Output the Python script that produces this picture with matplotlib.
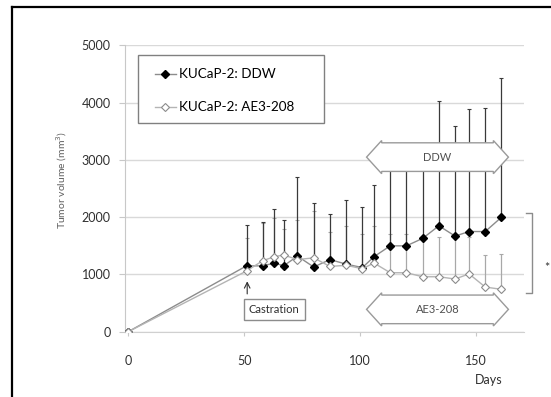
import matplotlib.pyplot as plt
import numpy as np
from matplotlib.patches import Polygon, Rectangle
from matplotlib.lines import Line2D

plt.rcParams['font.family'] = ['Lato', 'DejaVu Sans']

# days after inoculation
days = [0, 51, 58, 63, 67, 73, 80, 87, 94, 101, 106, 113, 120, 127, 134, 141, 147, 154, 161]

# KUCaP-2: DDW, mean and top of error bar
ddw_mean = [0, 1150, 1150, 1200, 1150, 1320, 1130, 1260, 1180, 1120, 1310, 1500, 1500, 1630, 1850, 1670, 1750, 1750, 2000]
ddw_upper = [0, 1870, 1910, 2150, 1960, 2700, 2240, 2060, 2300, 2180, 2570, 3100, 3100, 3100, 4030, 3600, 3890, 3900, 4440]

# KUCaP-2: AE3-208
ae3_mean = [0, 1060, 1240, 1310, 1340, 1260, 1290, 1140, 1160, 1100, 1200, 1030, 1030, 960, 960, 920, 1010, 780, 740]
ae3_upper = [0, 1630, 1900, 1980, 1800, 1950, 2100, 1750, 1840, 1700, 1840, 1700, 1710, 1600, 1650, 1680, 1650, 1340, 1350]

yticks = [0, 1000, 2000, 3000, 4000, 5000]
xticks = [0, 50, 100, 150]


def block_arrow(ax, x1, x2, yc, label, bh=250, hh=290, hw=6.5):
    pts = [(x1, yc), (x1 + hw, yc + hh), (x1 + hw, yc + bh), (x2 - hw, yc + bh),
           (x2 - hw, yc + hh), (x2, yc), (x2 - hw, yc - hh), (x2 - hw, yc - bh),
           (x1 + hw, yc - bh), (x1 + hw, yc - hh)]
    poly = Polygon(pts, closed=True, facecolor='white', edgecolor='#9a9a9a',
                   lw=1.0, zorder=6)
    ax.add_patch(poly)
    ax.text((x1 + x2) / 2, yc, label, ha='center', va='center', fontsize=8,
            color='#505050', zorder=7)


def main():
    fig = plt.figure(figsize=(5.51, 3.97), dpi=100)
    ax = fig.add_axes([0.2263, 0.1645, 0.7238, 0.7209])

    x = np.asarray(days)
    d_m = np.asarray(ddw_mean)
    d_err = np.asarray(ddw_upper) - d_m
    a_m = np.asarray(ae3_mean)
    a_err = np.asarray(ae3_upper) - a_m

    ax.errorbar(x, a_m, yerr=[np.zeros_like(a_err), a_err], fmt='none',
                ecolor='#a8a8a8', elinewidth=0.9, capsize=1.5, capthick=0.8, zorder=2)
    ax.errorbar(x, d_m, yerr=[np.zeros_like(d_err), d_err], fmt='none',
                ecolor='#3a3a3a', elinewidth=0.9, capsize=1.5, capthick=0.8, zorder=3)

    ax.plot(x, d_m, color='#8c8c8c', lw=1.0, marker='D', ms=4.3,
            mfc='black', mec='black', zorder=4, label='KUCaP-2: DDW')
    ax.plot(x, a_m, color='#b4b4b4', lw=1.0, marker='D', ms=4.3,
            mfc='white', mec='#8c8c8c', mew=0.8, zorder=5, label='KUCaP-2: AE3-208')

    ax.set_xlim(-1.55, 170.5)
    ax.set_ylim(0, 5000)
    ax.set_yticks(yticks)
    ax.set_xticks(xticks)
    ax.grid(axis='y', color='#d9d9d9', lw=1.0, zorder=0)
    ax.set_axisbelow(True)
    for s in ['top', 'right']:
        ax.spines[s].set_visible(False)
    ax.spines['left'].set_color('#c8c8c8')
    ax.spines['bottom'].set_color('#d0d0d0')
    ax.tick_params(axis='x', length=3, color='#c8c8c8', pad=14, labelsize=9,
                   labelcolor='#303030')
    ax.tick_params(axis='y', length=4, color='#c8c8c8', pad=6, labelsize=9,
                   labelcolor='#303030')

    # legend box drawn by hand, entries without frame
    ax.add_patch(Rectangle((0.0334, 0.7292), 0.4664, 0.2376, transform=ax.transAxes,
                           fc='white', ec='#808080', lw=1.0, zorder=8))
    leg = ax.legend(loc='upper left', bbox_to_anchor=(0.075, 0.92), borderaxespad=0,
                    fontsize=9.7, labelspacing=1.55, handlelength=1.6, handletextpad=0.2,
                    borderpad=0, frameon=False)
    leg.set_zorder(9)

    # treatment arrows
    block_arrow(ax, 102.8, 164.0, 3050, 'DDW')
    block_arrow(ax, 102.8, 164.0, 390, 'AE3-208')

    # castration marker
    ax.annotate('', xy=(51.3, 880), xytext=(51.3, 660),
                arrowprops=dict(arrowstyle='->', color='#303030', lw=0.8,
                                shrinkA=0, shrinkB=0), zorder=6)
    ax.text(63.0, 385, 'Castration', ha='center', va='center', fontsize=8,
            color='#303030', zorder=7,
            bbox=dict(boxstyle='square,pad=0.45', fc='white', ec='#8c8c8c', lw=1.0))

    # significance bracket
    ax.plot([171.4, 174.3, 174.3, 171.4], [2070, 2070, 670, 670], color='#8c8c8c',
            lw=1.0, clip_on=False)
    ax.text(180.5, 1120, '*', ha='center', va='center', fontsize=9,
            color='#303030', clip_on=False)

    fig.text(489 / 551, 1 - 380 / 397, 'Days', ha='center', va='center',
             fontsize=9, color='#303030')
    fig.text(62 / 551, 1 - 180 / 397, 'Tumor volume (mm$^3$)', ha='center', va='center',
             rotation=90, fontsize=7.5, color='#606060')

    # frame of the cropped figure
    fig.add_artist(Line2D([12 / 551, 12 / 551], [0, 1 - 6.5 / 397],
                          color='black', lw=1.6, transform=fig.transFigure))
    fig.add_artist(Line2D([12 / 551, 1], [1 - 6.5 / 397, 1 - 6.5 / 397],
                          color='black', lw=1.6, transform=fig.transFigure))

    fig.savefig('out.png', dpi=100)


if __name__ == '__main__':
    main()
